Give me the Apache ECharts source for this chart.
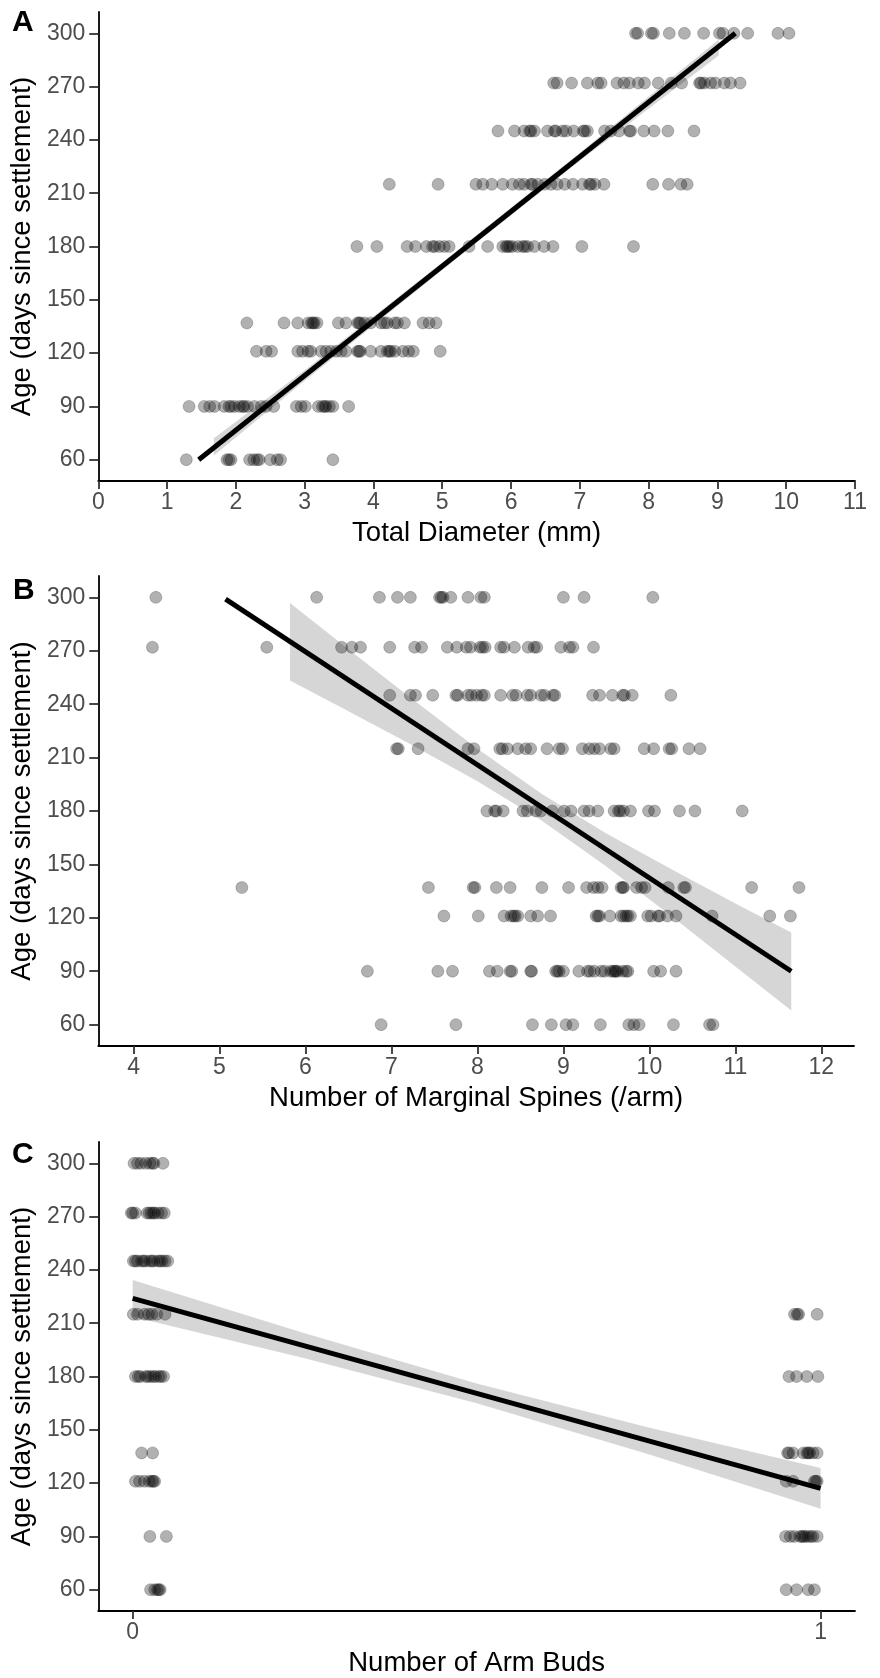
<!DOCTYPE html>
<html>
<head>
<meta charset="utf-8"/>
<script src="https://cdn.jsdelivr.net/npm/echarts@6/dist/echarts.min.js"></script>
<style>body{margin:0;background:#fff;}</style>
</head>
<body>
<div id="chart" style="width:880px;height:1678px"></div>
<script>
// age rows (days since settlement) and y tick labels
var ages = [60, 90, 121, 137, 180, 215, 245, 272, 300];
var ageTicks = [60, 90, 120, 150, 180, 210, 240, 270, 300];

// A: total diameter (mm), one list per age row
var diamA = [
  [1.28, 1.87, 1.90, 1.93, 2.20, 2.26, 2.31, 2.34, 2.50, 2.60, 2.65, 3.41],
  [1.32, 1.54, 1.62, 1.69, 1.83, 1.90, 1.93, 1.98, 2.05, 2.10, 2.12, 2.17, 2.27, 2.37, 2.44, 2.55, 2.88, 2.95, 3.01, 3.20, 3.26, 3.29, 3.31, 3.36, 3.41, 3.64],
  [2.30, 2.44, 2.52, 2.90, 2.97, 3.05, 3.09, 3.24, 3.31, 3.38, 3.46, 3.53, 3.60, 3.77, 3.79, 3.81, 3.96, 4.11, 4.20, 4.23, 4.25, 4.31, 4.43, 4.51, 4.58, 4.97],
  [2.16, 2.70, 2.90, 3.05, 3.10, 3.12, 3.14, 3.18, 3.49, 3.60, 3.77, 3.79, 3.81, 3.87, 3.96, 4.11, 4.16, 4.20, 4.31, 4.35, 4.45, 4.72, 4.81, 4.91],
  [3.76, 4.05, 4.49, 4.61, 4.77, 4.86, 4.89, 4.96, 5.03, 5.10, 5.39, 5.66, 5.88, 5.93, 5.95, 5.98, 6.02, 6.10, 6.17, 6.20, 6.24, 6.34, 6.48, 6.61, 7.03, 7.78],
  [4.23, 4.94, 5.49, 5.59, 5.72, 5.88, 6.02, 6.12, 6.19, 6.29, 6.31, 6.39, 6.49, 6.58, 6.67, 6.78, 6.90, 7.04, 7.14, 7.16, 7.22, 7.35, 8.06, 8.29, 8.47, 8.56],
  [5.81, 6.05, 6.19, 6.27, 6.29, 6.34, 6.53, 6.63, 6.65, 6.75, 6.80, 6.91, 7.05, 7.07, 7.11, 7.36, 7.45, 7.57, 7.72, 7.74, 7.93, 8.08, 8.28, 8.66],
  [6.62, 6.67, 6.88, 7.11, 7.26, 7.31, 7.54, 7.64, 7.72, 7.85, 7.94, 8.14, 8.33, 8.48, 8.74, 8.76, 8.81, 8.90, 8.97, 9.10, 9.19, 9.33],
  [7.81, 7.84, 8.04, 8.07, 8.30, 8.52, 8.80, 9.03, 9.08, 9.24, 9.44, 9.88, 10.04]
];
var fitA = [[1.46, 60], [9.26, 300]];
var bandAx = [1.68, 3, 5, 7, 9.02];
var bandAlo = [62.3, 104.5, 166.8, 228.2, 287.5];
var bandAhi = [72.0, 110.3, 171.0, 232.8, 296.5];

// B: marginal spines per arm
var spinesB = [
  [6.88, 7.75, 8.64, 8.86, 9.03, 9.11, 9.43, 9.76, 9.82, 9.88, 10.28, 10.70, 10.74],
  [6.72, 7.54, 7.71, 8.14, 8.23, 8.38, 8.40, 8.62, 8.63, 8.91, 8.93, 8.95, 9.00, 9.18, 9.28, 9.31, 9.36, 9.44, 9.48, 9.55, 9.58, 9.60, 9.61, 9.63, 9.69, 9.73, 9.75, 10.05, 10.13, 10.31],
  [7.61, 8.01, 8.31, 8.39, 8.42, 8.44, 8.47, 8.62, 8.70, 8.85, 9.38, 9.40, 9.42, 9.54, 9.67, 9.70, 9.73, 9.75, 9.78, 9.98, 10.02, 10.10, 10.12, 10.21, 10.31, 10.73, 11.40, 11.64],
  [5.26, 7.43, 7.95, 7.97, 8.22, 8.38, 8.75, 9.06, 9.27, 9.35, 9.40, 9.45, 9.67, 9.69, 9.70, 9.85, 9.91, 9.95, 10.22, 10.40, 10.42, 11.19, 11.74],
  [8.11, 8.20, 8.22, 8.30, 8.53, 8.58, 8.68, 8.74, 8.87, 9.01, 9.09, 9.24, 9.30, 9.40, 9.59, 9.64, 9.66, 9.70, 9.78, 9.99, 10.06, 10.35, 10.53, 11.08],
  [7.06, 7.08, 7.31, 7.89, 7.96, 8.26, 8.29, 8.35, 8.47, 8.56, 8.62, 8.81, 8.95, 8.99, 9.22, 9.30, 9.36, 9.42, 9.55, 9.59, 9.94, 10.05, 10.23, 10.26, 10.46, 10.59],
  [6.98, 7.22, 7.28, 7.48, 7.75, 7.77, 7.89, 7.93, 7.99, 8.05, 8.08, 8.27, 8.41, 8.45, 8.58, 8.62, 8.74, 8.78, 8.88, 8.90, 9.34, 9.42, 9.57, 9.69, 9.71, 9.80, 10.25],
  [4.22, 5.55, 6.42, 6.54, 6.64, 6.98, 7.27, 7.35, 7.65, 7.76, 7.87, 7.92, 8.03, 8.06, 8.09, 8.27, 8.31, 8.43, 8.59, 8.66, 8.69, 8.97, 9.07, 9.11, 9.35],
  [4.26, 6.13, 6.86, 7.07, 7.22, 7.56, 7.58, 7.60, 7.69, 7.89, 8.04, 8.08, 9.00, 9.24, 10.04]
];
var fitB = [[5.07, 299], [11.65, 90]];
var bandBx = [5.82, 6.5, 7.2, 8, 8.75, 9.5, 10.3, 11, 11.65];
var bandBlo = [253.3, 236.1, 218.1, 196.7, 174.5, 148.8, 119.3, 92.7, 67.9];
var bandBhi = [296.9, 270.9, 244.5, 214.9, 189.5, 167.4, 146.1, 128.1, 111.7];

// C: number of arm buds (jittered 0 / 1)
var budsC = [
  [0.026, 0.032, 0.036, 0.038, 0.040, 0.950, 0.965, 0.982, 0.991],
  [0.025, 0.049, 0.949, 0.956, 0.962, 0.970, 0.973, 0.975, 0.978, 0.982, 0.986, 0.989, 0.995],
  [0.004, 0.010, 0.017, 0.024, 0.028, 0.030, 0.032, 0.950, 0.960, 0.991, 0.993, 0.995],
  [0.013, 0.029, 0.952, 0.954, 0.960, 0.975, 0.980, 0.982, 0.984, 0.989, 0.995],
  [0.004, 0.008, 0.011, 0.019, 0.022, 0.026, 0.030, 0.033, 0.038, 0.041, 0.045, 0.954, 0.965, 0.980, 0.996],
  [0.001, 0.007, 0.017, 0.023, 0.028, 0.035, 0.047, 0.962, 0.966, 0.968, 0.995],
  [0.001, 0.004, 0.007, 0.013, 0.016, 0.019, 0.025, 0.028, 0.031, 0.037, 0.040, 0.043, 0.047, 0.051],
  [-0.002, 0.000, 0.004, 0.021, 0.024, 0.027, 0.030, 0.032, 0.037, 0.042, 0.046],
  [0.002, 0.007, 0.012, 0.019, 0.025, 0.029, 0.031, 0.044]
];
var fitC = [[0, 224], [1, 117]];
var bandCx = [0, 0.25, 0.5, 0.75, 1];
var bandClo = [213.7, 190.3, 165.0, 136.3, 105.5];
var bandChi = [234.3, 204.3, 176.0, 151.3, 128.5];

var FONT = '"Liberation Sans", Arial, sans-serif';

function rowsToPoints(rows){
  var out = [];
  for (var r = 0; r < rows.length; r++)
    for (var k = 0; k < rows[r].length; k++) out.push([rows[r][k], ages[r]]);
  return out;
}

function pointSeries(gi, rows){
  return {type:'scatter', xAxisIndex:gi, yAxisIndex:gi, data:rowsToPoints(rows),
    symbol:'circle', symbolSize:12, silent:true,
    itemStyle:{color:'rgba(0,0,0,0.38)', borderColor:'rgba(0,0,0,0.25)', borderWidth:1}};
}

function bandSeries(gi, xs, lo, hi){
  return {type:'custom', xAxisIndex:gi, yAxisIndex:gi, silent:true,
    data:xs.map(function(x, i){ return [x, lo[i], hi[i]]; }),
    renderItem:function(params, api){
      if (params.dataIndex !== 0) return;
      var pts = [];
      for (var i = 0; i < xs.length; i++) pts.push(api.coord([xs[i], hi[i]]));
      for (var j = xs.length - 1; j >= 0; j--) pts.push(api.coord([xs[j], lo[j]]));
      return {type:'polygon', shape:{points:pts}, style:{fill:'rgba(153,153,153,0.4)'}};
    }};
}

function fitSeries(gi, pts){
  return {type:'line', xAxisIndex:gi, yAxisIndex:gi, data:pts, showSymbol:false, silent:true,
    lineStyle:{color:'#000', width:5, cap:'butt'}};
}

function xAxis(gi, name, min, max, ticks){
  return {type:'value', gridIndex:gi, min:min, max:max, name:name,
    nameLocation:'middle', nameGap:38,
    nameTextStyle:{fontSize:27.5, color:'#000', fontFamily:FONT},
    axisLine:{onZero:false, lineStyle:{color:'#000', width:1.8}},
    axisTick:{show:true, length:8, lineStyle:{color:'#333', width:1.8}, customValues:ticks},
    axisLabel:{fontSize:23, color:'#4d4d4d', margin:10, fontFamily:FONT, customValues:ticks},
    splitLine:{show:false}};
}

function yAxis(gi){
  return {type:'value', gridIndex:gi, min:48, max:312, name:'Age (days since settlement)',
    nameLocation:'middle', nameGap:57,
    nameTextStyle:{fontSize:27.5, color:'#000', fontFamily:FONT},
    axisLine:{show:true, onZero:false, lineStyle:{color:'#000', width:1.8}},
    axisTick:{show:true, length:9, lineStyle:{color:'#333', width:1.8}, customValues:ageTicks},
    axisLabel:{fontSize:23, color:'#4d4d4d', margin:13, fontFamily:FONT, customValues:ageTicks},
    splitLine:{show:false}};
}

var chart = echarts.init(document.getElementById('chart'));
chart.setOption({
  animation:false,
  backgroundColor:'#fff',
  textStyle:{fontFamily:FONT},
  grid:[
    {left:97, top:12, width:758, height:469},
    {left:97, top:576, width:757, height:470},
    {left:97, top:1142, width:758, height:469}
  ],
  xAxis:[
    xAxis(0, 'Total Diameter (mm)', 0, 11, [0,1,2,3,4,5,6,7,8,9,10,11]),
    xAxis(1, 'Number of Marginal Spines (/arm)', 3.59, 12.38, [4,5,6,7,8,9,10,11,12]),
    xAxis(2, 'Number of Arm Buds', -0.05, 1.05, [0,1])
  ],
  yAxis:[yAxis(0), yAxis(1), yAxis(2)],
  graphic:[
    {type:'text', left:12, top:8, style:{text:'A', font:'bold 30px ' + FONT, fill:'#000'}},
    {type:'text', left:13, top:576, style:{text:'B', font:'bold 30px ' + FONT, fill:'#000'}},
    {type:'text', left:12, top:1140, style:{text:'C', font:'bold 30px ' + FONT, fill:'#000'}}
  ],
  series:[
    pointSeries(0, diamA), bandSeries(0, bandAx, bandAlo, bandAhi), fitSeries(0, fitA),
    pointSeries(1, spinesB), bandSeries(1, bandBx, bandBlo, bandBhi), fitSeries(1, fitB),
    pointSeries(2, budsC), bandSeries(2, bandCx, bandClo, bandChi), fitSeries(2, fitC)
  ]
});
</script>
</body>
</html>
